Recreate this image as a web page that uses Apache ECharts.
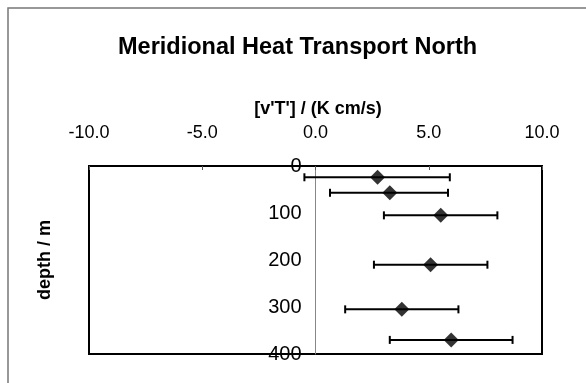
<!DOCTYPE html>
<html>
<head>
<meta charset="utf-8">
<script src="https://cdn.jsdelivr.net/npm/echarts@6/dist/echarts.min.js"></script>
<style>
  html, body { margin: 0; padding: 0; background: #fff; }
  #chart { width: 586px; height: 383px; }
</style>
</head>
<body>
<div id="chart"></div>
<script>
  'use strict'

  // depth of each estimate (m) and [v'T'] mean with error range (K cm/s)
  var depths = [24, 57, 105, 210, 305, 370];
  var means = [2.74, 3.28, 5.53, 5.08, 3.81, 5.99];
  var lower = [-0.49, 0.64, 3.02, 2.58, 1.31, 3.28];
  var upper = [5.93, 5.85, 8.03, 7.59, 6.31, 8.70];

  var xTicks = [-10, -5, 0, 5, 10];
  var yTicks = [0, 100, 200, 300, 400];

  var font = '"Liberation Sans", Arial, sans-serif';

  var points = depths.map(function(d, i) { return [means[i], d]; });
  var bars = depths.map(function(d, i) { return [lower[i], upper[i], d]; });

  var chart = echarts.init(document.getElementById('chart'));

  var option = {
    animation: false,
    title: {
      text: 'Meridional Heat Transport North',
      left: 113,
      top: 31,
      textStyle: { fontFamily: font, fontSize: 23.5, fontWeight: 'bold', color: '#000' }
    },
    graphic: [
      {
        type: 'rect',
        shape: { x: 8, y: 8, width: 600, height: 400 },
        style: { fill: 'none', stroke: '#777', lineWidth: 1.5 },
        silent: true
      },
      {
        type: 'text',
        x: 45.5, y: 260,
        rotation: Math.PI / 2,
        style: {
          text: 'depth / m',
          fontFamily: font, fontSize: 18, fontWeight: 'bold',
          fill: '#000', align: 'center', verticalAlign: 'middle'
        }
      }
    ],
    grid: {
      left: 89, right: 44, top: 166, bottom: 29,
      show: true,
      borderColor: '#000',
      borderWidth: 2
    },
    xAxis: {
      type: 'value',
      position: 'top',
      min: xTicks[0],
      max: xTicks[xTicks.length - 1],
      interval: 5,
      name: "[v'T'] / (K cm/s)",
      nameLocation: 'middle',
      nameGap: 48,
      nameTextStyle: { fontFamily: font, fontSize: 18, fontWeight: 'bold', color: '#000', padding: [0, 0, 0, 5] },
      axisLine: { show: true, lineStyle: { color: '#000', width: 2 } },
      axisTick: { show: true, inside: true, length: 4, lineStyle: { color: '#555' } },
      axisLabel: {
        fontFamily: font, fontSize: 18, color: '#000', margin: 24,
        formatter: function(v) { return v.toFixed(1); }
      },
      splitLine: { show: false }
    },
    yAxis: {
      type: 'value',
      inverse: true,
      min: yTicks[0],
      max: yTicks[yTicks.length - 1],
      interval: 100,
      // moved from the grid's left edge onto x = 0 so the labels sit beside it
      offset: -226.5,
      axisLine: { show: true, onZero: false, lineStyle: { color: '#888', width: 1 } },
      axisTick: { show: false },
      axisLabel: { fontFamily: font, fontSize: 20, color: '#000', margin: 14 },
      splitLine: { show: false }
    },
    series: [
      {
        type: 'custom',
        data: bars,
        z: 3,
        renderItem: function(params, api) {
          var a = api.coord([api.value(0), api.value(2)]);
          var b = api.coord([api.value(1), api.value(2)]);
          var h = 4;
          var st = { stroke: '#000', lineWidth: 2 };
          return {
            type: 'group',
            children: [
              { type: 'line', shape: { x1: a[0], y1: a[1], x2: b[0], y2: b[1] }, style: st },
              { type: 'line', shape: { x1: a[0], y1: a[1] - h, x2: a[0], y2: a[1] + h }, style: st },
              { type: 'line', shape: { x1: b[0], y1: b[1] - h, x2: b[0], y2: b[1] + h }, style: st }
            ]
          };
        }
      },
      {
        type: 'scatter',
        data: points,
        symbol: 'diamond',
        symbolSize: 15,
        z: 4,
        itemStyle: { color: '#000' }
      }
    ]
  };

  chart.setOption(option);
</script>
</body>
</html>
